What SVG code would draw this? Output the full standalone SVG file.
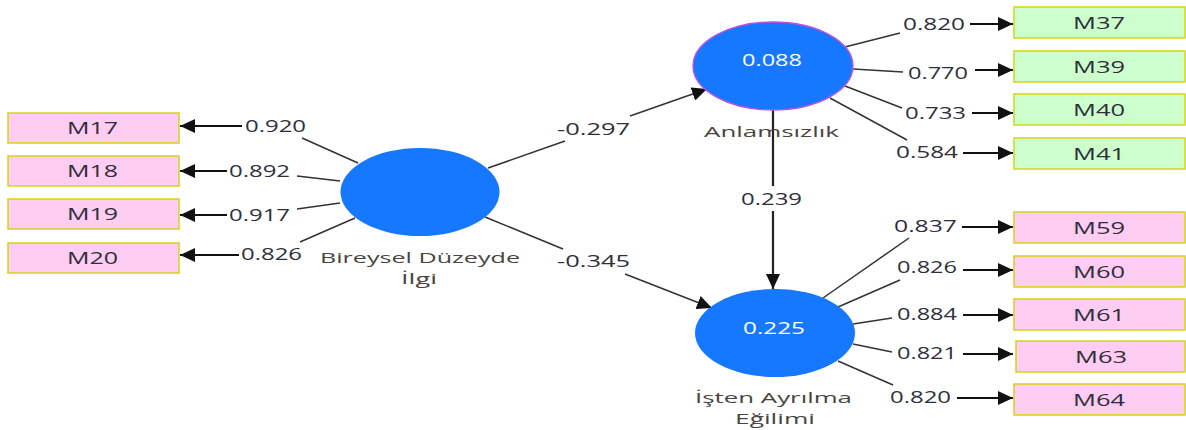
<svg xmlns="http://www.w3.org/2000/svg" width="1186" height="430" viewBox="0 0 1186 430">
  <style>
    .lat { fill: #1677ff; }
    .ind-p { fill: #ffccf2; stroke: #d4d41a; stroke-width: 1.5; }
    .ind-g { fill: #ccffcc; stroke: #d4d41a; stroke-width: 1.5; }
    .t { font-family: "Open Sans", "Liberation Sans", sans-serif; font-size: 16px; fill: #2e2e3c; }
    .n { font-family: "Open Sans", "Liberation Sans", sans-serif; font-size: 15px; fill: #4a4440; }
    .w { font-family: "Open Sans", "Liberation Sans", sans-serif; font-size: 16px; fill: #ffffff; }
    .ln { stroke: #333; stroke-width: 1.5; fill: none; }
    .ar { stroke: #111; stroke-width: 1.8; fill: none; marker-end: url(#head); }
    .pa { stroke: #333; stroke-width: 1.6; fill: none; }
  </style>
  <defs>
    <marker id="head" markerUnits="userSpaceOnUse" markerWidth="16" markerHeight="14" refX="15" refY="7" orient="auto">
      <path d="M0,0 L15,7 L0,14 Z" fill="#111"/>
    </marker>
  </defs>
  <rect width="1186" height="430" fill="#ffffff"/>

  <!-- connectors -->
  <g id="connectors">
    <!-- Bireysel Düzeyde İlgi indicators -->
    <line class="ln" x1="358" y1="163" x2="302" y2="138"/>
    <line class="ar" x1="242" y1="126" x2="180" y2="126"/>
    <line class="ln" x1="340" y1="181" x2="297" y2="176"/>
    <line class="ar" x1="227" y1="171" x2="180" y2="171"/>
    <line class="ln" x1="340" y1="203" x2="297" y2="209"/>
    <line class="ar" x1="227" y1="215" x2="180" y2="215"/>
    <line class="ln" x1="355" y1="218" x2="300" y2="242"/>
    <line class="ar" x1="239" y1="255" x2="180" y2="255"/>

    <!-- Anlamsızlık indicators -->
    <line class="ln" x1="845" y1="47" x2="900" y2="33"/>
    <line class="ar" x1="970" y1="24" x2="1013" y2="24"/>
    <line class="ln" x1="853" y1="69" x2="903" y2="72"/>
    <line class="ar" x1="975" y1="70" x2="1013" y2="70"/>
    <line class="ln" x1="845" y1="86" x2="902" y2="108"/>
    <line class="ar" x1="972" y1="113" x2="1013" y2="113"/>
    <line class="ln" x1="830" y1="98" x2="907" y2="140"/>
    <line class="ar" x1="963" y1="153" x2="1013" y2="153"/>

    <!-- İşten Ayrılma Eğilimi indicators -->
    <line class="ln" x1="823" y1="298" x2="909" y2="238"/>
    <line class="ar" x1="962" y1="227" x2="1013" y2="227"/>
    <line class="ln" x1="838" y1="307" x2="900" y2="280"/>
    <line class="ar" x1="963" y1="270" x2="1013" y2="270"/>
    <line class="ln" x1="853" y1="324" x2="892" y2="318"/>
    <line class="ar" x1="963" y1="315" x2="1013" y2="315"/>
    <line class="ln" x1="853" y1="344" x2="892" y2="352"/>
    <line class="ar" x1="963" y1="354" x2="1013" y2="354"/>
    <line class="ln" x1="838" y1="361" x2="893" y2="385"/>
    <line class="ar" x1="957" y1="398" x2="1013" y2="398"/>

    <!-- structural paths -->
    <line class="pa" x1="488" y1="168" x2="565" y2="141"/>
    <line class="pa" x1="630" y1="116" x2="707" y2="89" marker-end="url(#head)"/>
    <line class="pa" x1="485" y1="217" x2="563" y2="249"/>
    <line class="pa" x1="625" y1="274" x2="712" y2="308" marker-end="url(#head)"/>
    <line x1="773" y1="110" x2="773" y2="186" stroke="#222" stroke-width="2.2"/>
    <line x1="773" y1="211" x2="773" y2="289" stroke="#222" stroke-width="2.2" marker-end="url(#head)"/>

    <!-- path coefficients -->
    <text class="t" x="557" y="135" textLength="73" lengthAdjust="spacingAndGlyphs">-0.297</text>
    <text class="t" x="557" y="267" textLength="73" lengthAdjust="spacingAndGlyphs">-0.345</text>
    <text class="t" x="741" y="205" textLength="61" lengthAdjust="spacingAndGlyphs">0.239</text>

    <!-- loadings -->
    <text class="t" x="245" y="132" textLength="61" lengthAdjust="spacingAndGlyphs">0.920</text>
    <text class="t" x="229" y="177" textLength="61" lengthAdjust="spacingAndGlyphs">0.892</text>
    <text class="t" x="229" y="221" textLength="61" lengthAdjust="spacingAndGlyphs">0.917</text>
    <text class="t" x="241" y="260" textLength="61" lengthAdjust="spacingAndGlyphs">0.826</text>

    <text class="t" x="903" y="30" textLength="62" lengthAdjust="spacingAndGlyphs">0.820</text>
    <text class="t" x="908" y="79" textLength="60" lengthAdjust="spacingAndGlyphs">0.770</text>
    <text class="t" x="905" y="119" textLength="61" lengthAdjust="spacingAndGlyphs">0.733</text>
    <text class="t" x="896" y="158" textLength="62" lengthAdjust="spacingAndGlyphs">0.584</text>

    <text class="t" x="894" y="232" textLength="63" lengthAdjust="spacingAndGlyphs">0.837</text>
    <text class="t" x="897" y="273" textLength="60" lengthAdjust="spacingAndGlyphs">0.826</text>
    <text class="t" x="897" y="320" textLength="60" lengthAdjust="spacingAndGlyphs">0.884</text>
    <text class="t" x="897" y="359" textLength="60" lengthAdjust="spacingAndGlyphs">0.821</text>
    <text class="t" x="890" y="403" textLength="61" lengthAdjust="spacingAndGlyphs">0.820</text>
  </g>

  <!-- latent constructs -->
  <g id="bireysel">
    <ellipse class="lat" cx="420" cy="192" rx="79.5" ry="44"/>
    <text class="n" x="320" y="263" textLength="200" lengthAdjust="spacingAndGlyphs">Bireysel Düzeyde</text>
    <text class="n" x="401" y="284" textLength="36" lengthAdjust="spacingAndGlyphs">İlgi</text>
  </g>
  <g id="anlamsizlik">
    <ellipse class="lat" cx="773" cy="66" rx="80" ry="44" stroke="#c050e0" stroke-width="1.3"/>
    <text class="w" x="742" y="66" textLength="60" lengthAdjust="spacingAndGlyphs">0.088</text>
    <text class="n" x="704" y="137" textLength="135" lengthAdjust="spacingAndGlyphs">Anlamsızlık</text>
  </g>
  <g id="isten">
    <ellipse class="lat" cx="775" cy="333" rx="80" ry="44"/>
    <text class="w" x="743" y="334" textLength="62" lengthAdjust="spacingAndGlyphs">0.225</text>
    <text class="n" x="695" y="403" textLength="157" lengthAdjust="spacingAndGlyphs">İşten Ayrılma</text>
    <text class="n" x="735" y="424" textLength="80" lengthAdjust="spacingAndGlyphs">Eğilimi</text>
  </g>

  <!-- indicators -->
  <g id="M17"><rect class="ind-p" x="8" y="113" width="171" height="30"/><text class="t" x="67" y="134" textLength="51" lengthAdjust="spacingAndGlyphs">M17</text></g>
  <g id="M18"><rect class="ind-p" x="8" y="156" width="171" height="30"/><text class="t" x="67" y="177" textLength="51" lengthAdjust="spacingAndGlyphs">M18</text></g>
  <g id="M19"><rect class="ind-p" x="8" y="199" width="171" height="30"/><text class="t" x="67" y="220" textLength="51" lengthAdjust="spacingAndGlyphs">M19</text></g>
  <g id="M20"><rect class="ind-p" x="8" y="243" width="171" height="30"/><text class="t" x="67" y="264" textLength="51" lengthAdjust="spacingAndGlyphs">M20</text></g>

  <g id="M37"><rect class="ind-g" x="1014" y="7" width="171" height="31"/><text class="t" x="1073" y="29" textLength="52" lengthAdjust="spacingAndGlyphs">M37</text></g>
  <g id="M39"><rect class="ind-g" x="1014" y="51" width="171" height="31"/><text class="t" x="1073" y="73" textLength="52" lengthAdjust="spacingAndGlyphs">M39</text></g>
  <g id="M40"><rect class="ind-g" x="1014" y="94" width="171" height="31"/><text class="t" x="1073" y="116" textLength="52" lengthAdjust="spacingAndGlyphs">M40</text></g>
  <g id="M41"><rect class="ind-g" x="1014" y="138" width="171" height="31"/><text class="t" x="1073" y="160" textLength="52" lengthAdjust="spacingAndGlyphs">M41</text></g>

  <g id="M59"><rect class="ind-p" x="1014" y="212" width="171" height="31"/><text class="t" x="1073" y="234" textLength="52" lengthAdjust="spacingAndGlyphs">M59</text></g>
  <g id="M60"><rect class="ind-p" x="1014" y="256" width="171" height="31"/><text class="t" x="1073" y="278" textLength="52" lengthAdjust="spacingAndGlyphs">M60</text></g>
  <g id="M61"><rect class="ind-p" x="1014" y="299" width="171" height="31"/><text class="t" x="1073" y="321" textLength="52" lengthAdjust="spacingAndGlyphs">M61</text></g>
  <g id="M63"><rect class="ind-p" x="1016" y="341" width="169" height="31"/><text class="t" x="1075" y="363" textLength="52" lengthAdjust="spacingAndGlyphs">M63</text></g>
  <g id="M64"><rect class="ind-p" x="1014" y="384" width="171" height="31"/><text class="t" x="1073" y="406" textLength="52" lengthAdjust="spacingAndGlyphs">M64</text></g>
</svg>
